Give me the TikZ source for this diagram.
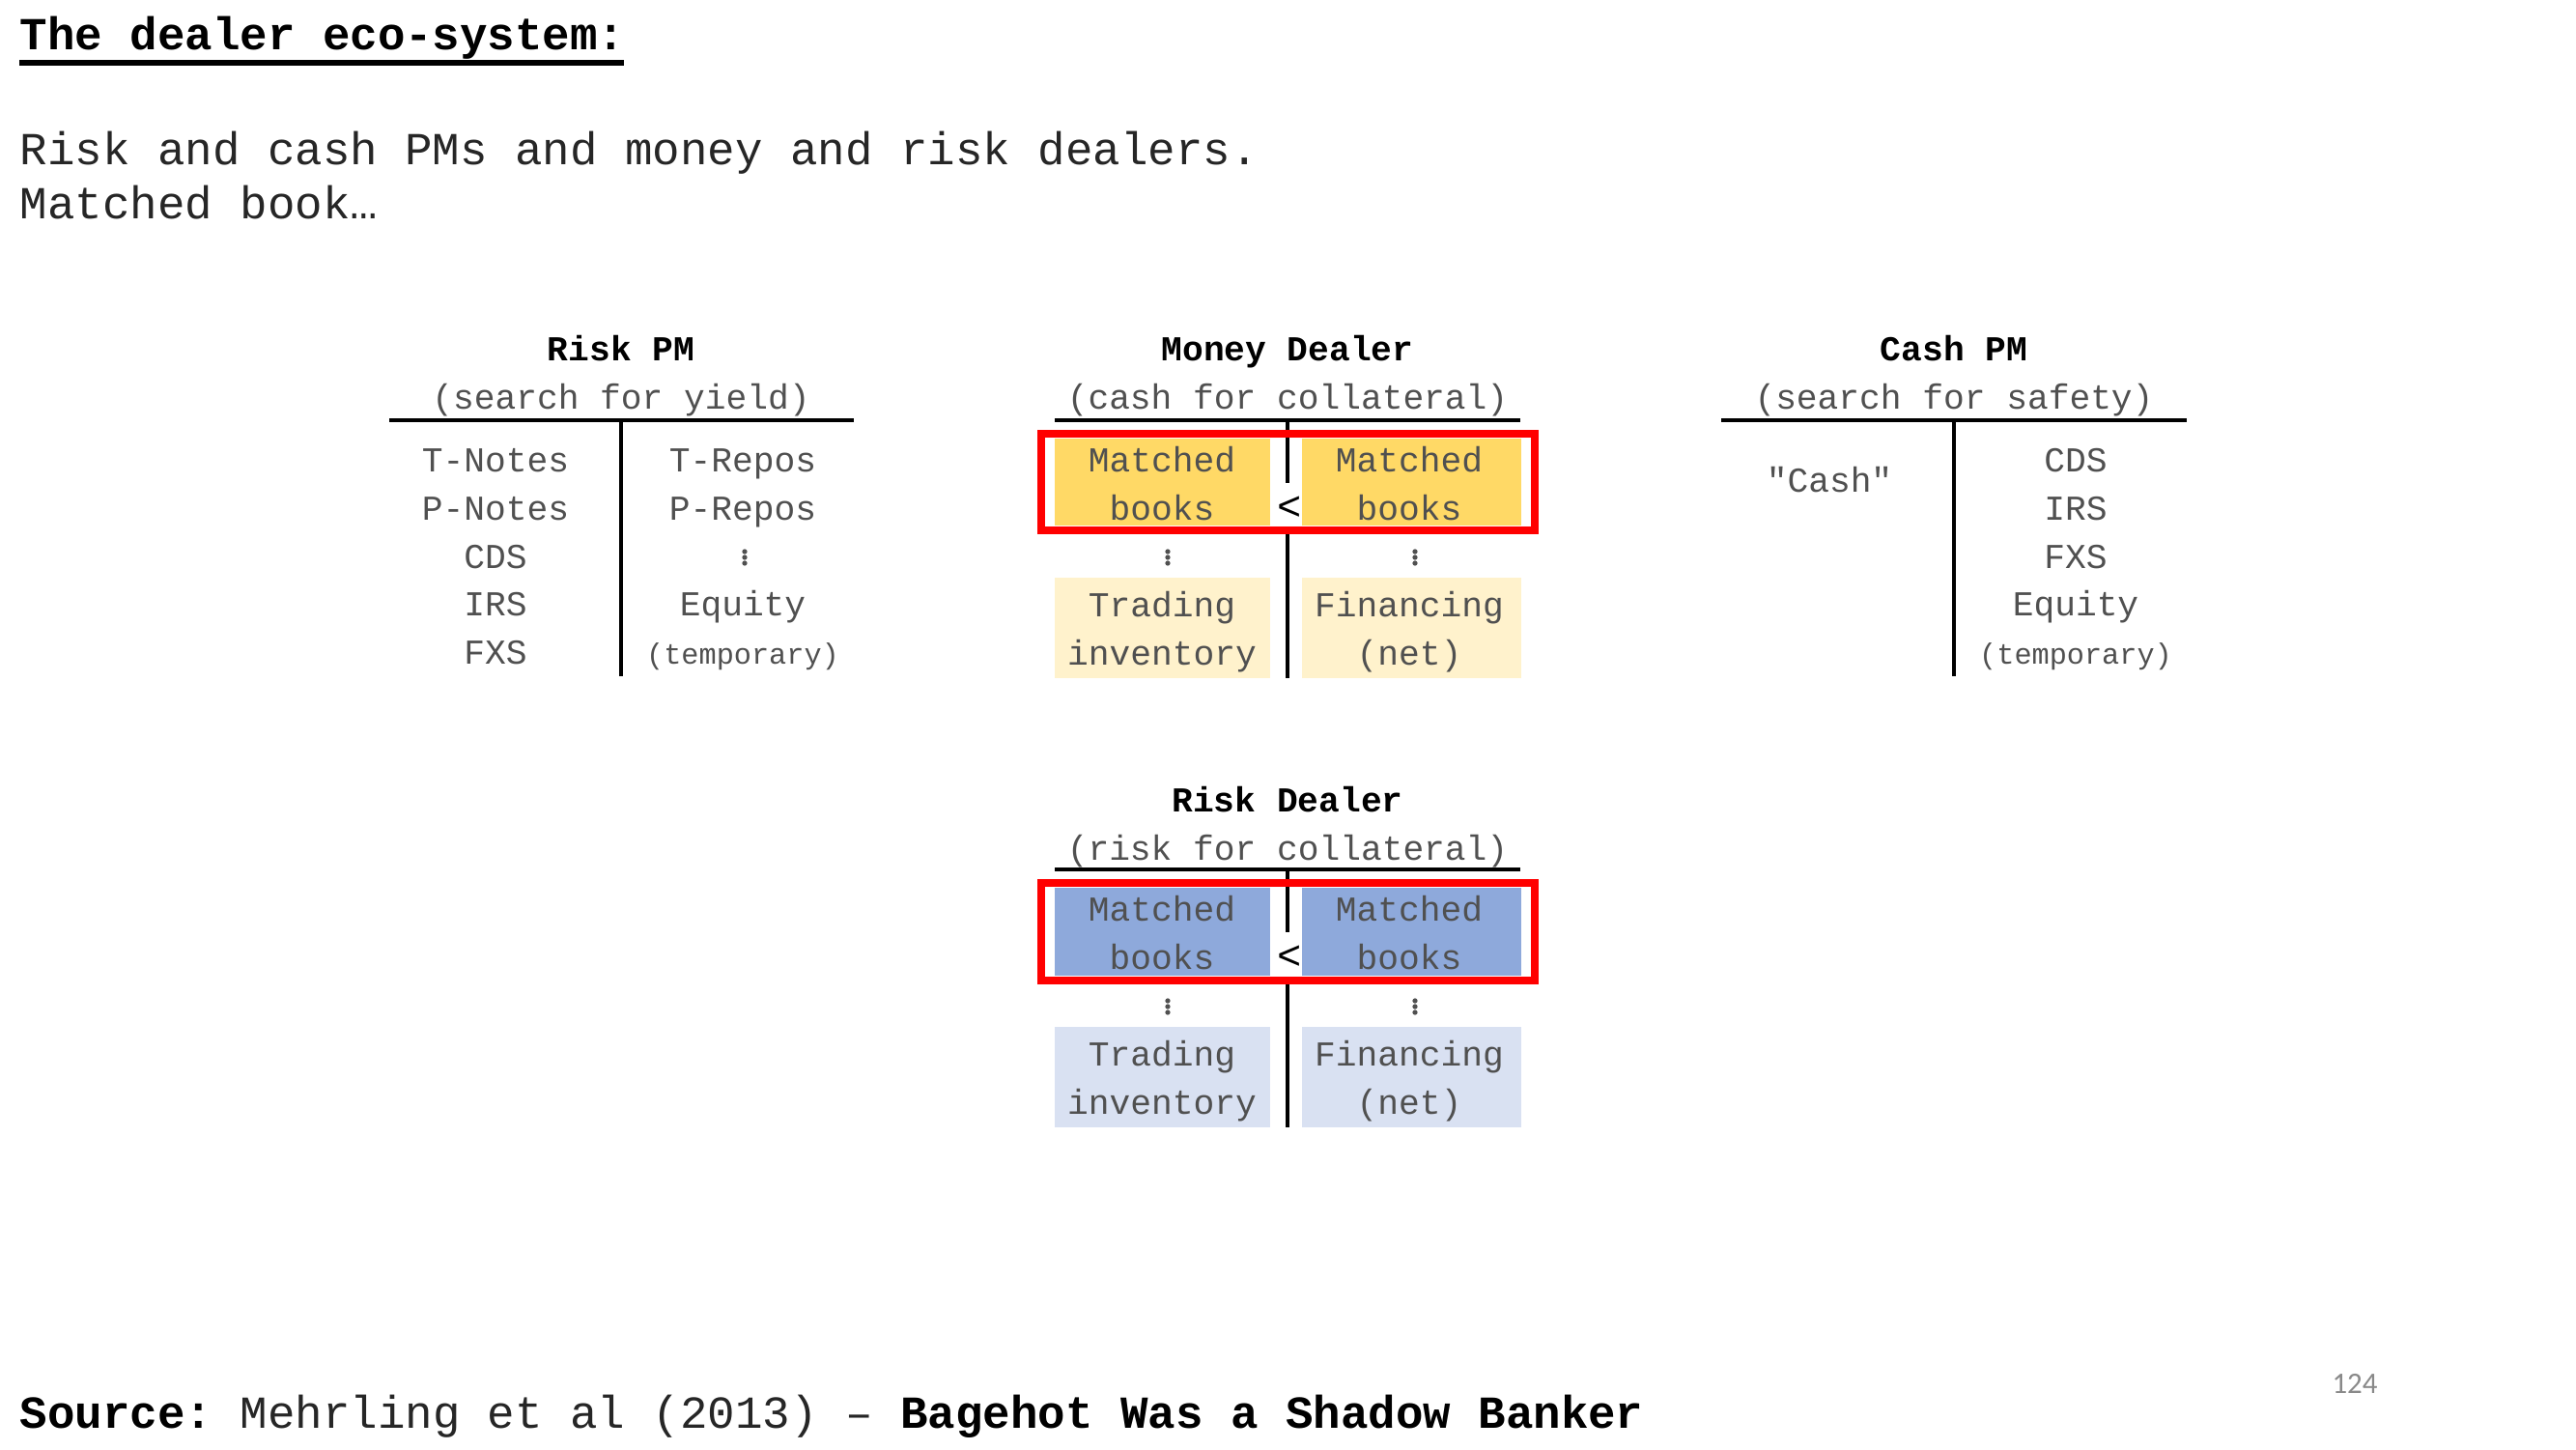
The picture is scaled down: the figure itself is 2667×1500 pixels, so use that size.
\documentclass[tikz,border=0pt]{standalone}
\usepackage{fontspec}
\setmainfont{Liberation Mono}
\newfontfamily\rawmono{Liberation Mono}[Ligatures=TeXOff]
\newfontfamily\numfont{Carlito}
\definecolor{ylS}{HTML}{FFD966}
\definecolor{ylL}{HTML}{FFF2CC}
\definecolor{blS}{HTML}{8EA9DB}
\definecolor{blL}{HTML}{D9E1F2}
\definecolor{txt}{HTML}{505050}
\definecolor{bodytxt}{HTML}{262626}
\definecolor{pg}{HTML}{898989}
\frenchspacing
\begin{document}
\begin{tikzpicture}[x=0.01cm,y=-0.01cm,
  body/.style={anchor=base west, inner sep=0, text=bodytxt, font=\fontsize{13.5}{16}\selectfont},
  cell/.style={anchor=base, inner sep=0, text=txt, font=\fontsize{10.3}{12}\selectfont},
  tiny/.style={anchor=base, inner sep=0, text=txt, font=\fontsize{8.6}{10}\selectfont},
  head/.style={anchor=base, inner sep=0, font=\fontsize{10.3}{12}\selectfont\bfseries},
  lt/.style={anchor=base, inner sep=0, text=black, font=\fontsize{12}{14}\selectfont},
  rule/.style={line width=1.1pt},
  redbox/.style={draw=red, line width=2.4pt},
  tile/.style={inner sep=0, minimum width=#1, minimum height=0.9cm},
  ltile/.style={inner sep=0, minimum width=#1, minimum height=1.04cm},
  vdot/.style={fill=txt},
]
\useasboundingbox[fill=white] (0,0) rectangle (2667,1500);

% ---------- text header ----------
\node[body, text=black, font=\fontsize{13.5}{16}\selectfont\bfseries] (title) at (20,52) {The dealer eco-system:};
\draw[line width=1.6pt] (20,65) -- (646,65);
\node[body] (l1) at (20,170) {Risk and cash PMs and money and risk dealers.};
\node[body] (l2) at (20,226) {Matched book…};

% ---------- Risk PM ----------
\node[head] (rpmh) at (643,373) {Risk PM};
\node[cell] (rpms) at (643,423) {(search for yield)};
\draw[rule] (403,435) -- (884,435);
\draw[rule] (643,435) -- (643,700);
\node[cell] (rpa1) at (513,488) {T-Notes};
\node[cell] (rpa2) at (513,538) {P-Notes};
\node[cell] (rpa3) at (513,588) {CDS};
\node[cell] (rpa4) at (513,637) {IRS};
\node[cell] (rpa5) at (513,687) {FXS};
\node[cell] (rpl1) at (769,488) {T-Repos};
\node[cell] (rpl2) at (769,538) {P-Repos};
\foreach \yy in {571,577,583} \fill[vdot] (771,\yy) circle (0.75pt);
\node[cell] (rpl4) at (769,637) {Equity};
\node[tiny] (rpl5) at (769,687) {(temporary)};

% ---------- Cash PM ----------
\node[head] (cpmh) at (2023,373) {Cash PM};
\node[cell] (cpms) at (2023,423) {(search for safety)};
\draw[rule] (1782,435) -- (2264,435);
\draw[rule] (2023,435) -- (2023,700);
\node[cell, font=\fontsize{10.3}{12}\rawmono] (cpa1) at (1894,509) {"Cash"};
\node[cell] (cpl1) at (2149,488) {CDS};
\node[cell] (cpl2) at (2149,538) {IRS};
\node[cell] (cpl3) at (2149,588) {FXS};
\node[cell] (cpl4) at (2149,637) {Equity};
\node[tiny] (cpl5) at (2149,687) {(temporary)};

% ---------- Money Dealer ----------
\node[head] (mdh) at (1333,373) {Money Dealer};
\node[cell] (mds) at (1333,423) {(cash for collateral)};
\node[tile=2.23cm, fill=ylS] (mdA) at (1203.5,499) {};
\node[tile=2.27cm, fill=ylS] (mdL) at (1461.5,499) {};
\node[ltile=2.23cm, fill=ylL] (mdA2) at (1203.5,650) {};
\node[ltile=2.27cm, fill=ylL] (mdL2) at (1461.5,650) {};
\draw[rule] (1092,435) -- (1574,435);
\draw[rule] (1333,435) -- (1333,500);
\draw[rule] (1333,549) -- (1333,702);
\draw[redbox] (1078,449) rectangle (1589,549);
\node[cell] (mdA1) at (1203,488) {Matched};
\node[cell] (mdA1b) at (1203,538) {books};
\node[cell] (mdL1) at (1459,488) {Matched};
\node[cell] (mdL1b) at (1459,538) {books};
\node[lt] (mdlt) at (1335,538) {<};
\foreach \yy in {571,577,583} {\fill[vdot] (1209,\yy) circle (0.75pt); \fill[vdot] (1465,\yy) circle (0.75pt);}
\node[cell] (mdA3) at (1203,638) {Trading};
\node[cell] (mdA3b) at (1203,688) {inventory};
\node[cell] (mdL3) at (1459,638) {Financing};
\node[cell] (mdL3b) at (1459,688) {(net)};

% ---------- Risk Dealer ----------
\node[head] (rdh) at (1333,840) {Risk Dealer};
\node[cell] (rds) at (1333,890) {(risk for collateral)};
\node[tile=2.23cm, fill=blS] (rdA) at (1203.5,964.5) {};
\node[tile=2.27cm, fill=blS] (rdL) at (1461.5,964.5) {};
\node[ltile=2.23cm, fill=blL] (rdA2) at (1203.5,1115) {};
\node[ltile=2.27cm, fill=blL] (rdL2) at (1461.5,1115) {};
\draw[rule] (1092,900) -- (1574,900);
\draw[rule] (1333,900) -- (1333,965);
\draw[rule] (1333,1015) -- (1333,1167);
\draw[redbox] (1078,914) rectangle (1589,1015);
\node[cell] (rdA1) at (1203,953) {Matched};
\node[cell] (rdA1b) at (1203,1003) {books};
\node[cell] (rdL1) at (1459,953) {Matched};
\node[cell] (rdL1b) at (1459,1003) {books};
\node[lt] (rdlt) at (1335,1003) {<};
\foreach \yy in {1036,1042,1048} {\fill[vdot] (1209,\yy) circle (0.75pt); \fill[vdot] (1465,\yy) circle (0.75pt);}
\node[cell] (rdA3) at (1203,1103) {Trading};
\node[cell] (rdA3b) at (1203,1153) {inventory};
\node[cell] (rdL3) at (1459,1103) {Financing};
\node[cell] (rdL3b) at (1459,1153) {(net)};

% ---------- footer ----------
\node[body] (src) at (20,1478) {\textcolor{black}{\textbf{Source:}} Mehrling et al (2013) – \textcolor{black}{\textbf{Bagehot Was a Shadow Banker}}};
\node[anchor=base, inner sep=0, text=pg, font=\numfont\fontsize{8.8}{10}\selectfont] (pgn) at (2438,1442) {124};
\end{tikzpicture}
\end{document}
